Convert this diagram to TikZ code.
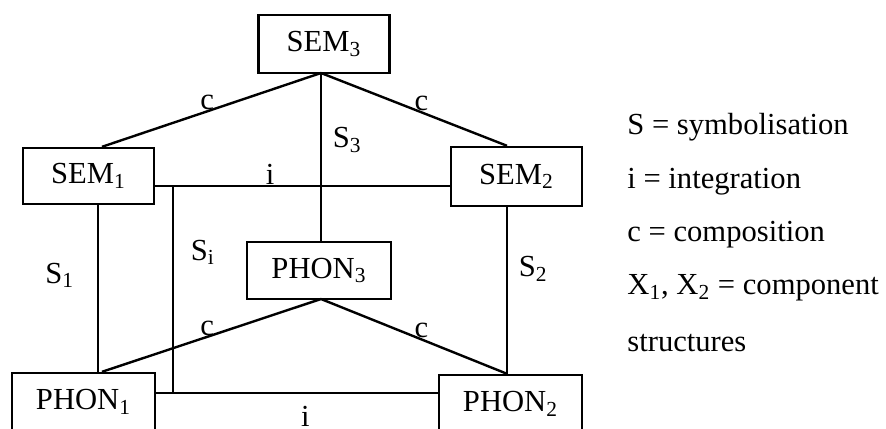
\documentclass[tikz,border=0pt]{standalone}
\usepackage{fontspec}
\setmainfont{Liberation Serif}
\usetikzlibrary{calc}
\begin{document}
\begin{tikzpicture}[x=0.5pt,y=-0.5pt,
  font=\fontsize{15.3}{18}\selectfont,
  box/.style={draw, line width=1.2pt, inner sep=0pt, minimum width=65.5pt, minimum height=29pt},
  wbox/.style={box, minimum width=72pt},
  link/.style={line width=1.2pt},
  lab/.style={inner sep=0pt},
  legend/.style={anchor=west, inner sep=0pt}]
\useasboundingbox (0,0) rectangle (886,428);
% boxes
\node[box] (sem3) at (324,44) {SEM\textsubscript{3}};
\node[box, minimum height=28pt] (sem1) at (88.5,176) {SEM\textsubscript{1}};
\node[box, minimum height=29.5pt] (sem2) at (516.5,176.5) {SEM\textsubscript{2}};
\node[wbox, minimum height=28.5pt] (phon3) at (319,270.5) {PHON\textsubscript{3}};
\node[wbox, minimum width=71.5pt] (phon1) at (83.5,402) {PHON\textsubscript{1}};
\node[wbox, minimum width=71.5pt] (phon2) at (510.5,404) {PHON\textsubscript{2}};
% helper coordinates
\coordinate (top) at (321,73);
\coordinate (mid) at (321,299);
\coordinate (lx) at (98,0);
\coordinate (lc) at (102,0);
\coordinate (rx) at (507,0);
\coordinate (iy) at (0,186);
\coordinate (by) at (0,393);
\coordinate (j1) at (173,186);
\coordinate (j2) at (173,393);
% composition links
\draw[link] (top) -- node[lab, pos=0.52, anchor=south] {c} (sem1.north -| lc);
\draw[link] (top) -- node[lab, pos=0.54, anchor=south] {c} (sem2.north -| rx);
\draw[link] (mid) -- node[lab, pos=0.52, anchor=south] {c} (phon1.north -| lc);
\draw[link] (mid) -- node[lab, pos=0.54, anchor=south] {c} (phon2.north -| rx);
% symbolisation links
\draw[link] (top) -- node[pos=0.40, right=2pt] {S\textsubscript{3}} (top |- phon3.north);
\draw[link] (sem1.south -| lx) -- node[pos=0.42, left=8pt] {S\textsubscript{1}} (phon1.north -| lx);
\draw[link] (sem2.south -| rx) -- node[pos=0.37, right=2pt] {S\textsubscript{2}} (phon2.north -| rx);
\draw[link] (j1) -- node[pos=0.32, right=5pt] {S\textsubscript{i}} (j2);
% integration links
\draw[link] (sem1.east |- iy) -- node[lab, pos=0.39, anchor=south] {i} (sem2.west |- iy);
\draw[link] (phon1.east |- by) -- node[lab, pos=0.53, below=6pt] {i} (phon2.west |- by);
% legend
\node[legend] (l1) at (627,127) {S = symbolisation};
\node[legend] (l2) at (627,182) {i = integration};
\node[legend] (l3) at (627,235) {c = composition};
\node[legend] (l4) at (627,288) {X\textsubscript{1}, X\textsubscript{2} = component};
\node[legend] (l5) at (627,343) {structures};
\end{tikzpicture}
\end{document}
